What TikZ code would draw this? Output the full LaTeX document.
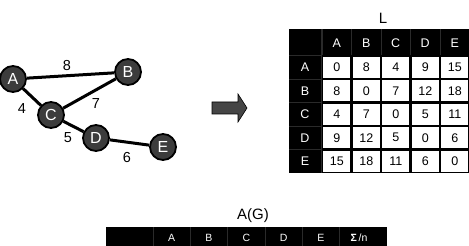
\documentclass[tikz,border=0pt]{standalone}
\usepackage{fontspec}
\setmainfont{Liberation Sans}
\usetikzlibrary{backgrounds}
\definecolor{nodegray}{HTML}{3C3C3C}
\definecolor{arrowgray}{HTML}{454545}
\definecolor{sepgray}{HTML}{2A2A2A}
\begin{document}
\begin{tikzpicture}[x=1pt,y=-1pt,
  gnode/.style={circle, draw=black, line width=1.8pt, fill=nodegray, text=white,
    minimum size=26pt, inner sep=0pt, font=\fontsize{16}{16}\selectfont},
  gedge/.style={line width=3pt, black},
  elabel/.style={inner sep=0pt, font=\fontsize{14.5}{14.5}\selectfont},
  title/.style={inner sep=0pt, font=\fontsize{15}{15}\selectfont},
  hd/.style={inner sep=0pt, text=white, font=\fontsize{12.5}{12.5}\selectfont},
  hdsmall/.style={inner sep=0pt, text=white, font=\fontsize{10.5}{10.5}\selectfont},
  cell/.style={fill=white, inner sep=0pt, minimum width=27.3pt, minimum height=21.3pt,
    font=\fontsize{12.5}{12.5}\selectfont},
  sep/.style={sepgray, line width=0.8pt},
  blockarrow/.style={fill=arrowgray, draw=black, line width=0.6pt, line join=miter}
]
\useasboundingbox (0,0) rectangle (469,246);
\clip (0,0) rectangle (469,246);

% ---- graph ----
\node[gnode] (A) at (13,79) {A};
\node[gnode] (B) at (128,72) {B};
\node[gnode] (C) at (51,115) {C};
\node[gnode] (D) at (96,138) {D};
\node[gnode] (E) at (163,147) {E};
\begin{scope}[on background layer]
\draw[gedge] (A) -- (B);
\draw[gedge] (A) -- (C);
\draw[gedge] (C) -- (B);
\draw[gedge] (C) -- (D);
\draw[gedge] (D) -- (E);
\end{scope}
\node[elabel] (lab8) at (67,66) {8};
\node[elabel] (lab4) at (22,109) {4};
\node[elabel] (lab7) at (96,104) {7};
\node[elabel] (lab5) at (68,138) {5};
\node[elabel] (lab6) at (127,158) {6};

% ---- block arrow ----
\draw[blockarrow] (212,102) -- (238,102) -- (238,94) -- (247,108) -- (238,122) -- (238,114) -- (212,114) -- cycle;

% ---- table L ----
\node[title] (Ltitle) at (383,18) {L};
\fill[black] (289,29) rectangle (472,173);
\foreach \k in {0,...,5} {
  \draw[sep] ({322+29.5*\k},29) -- ({322+29.5*\k},55.5);
}
\draw[sep] (321,29) -- (321,173);
\foreach \k in {1,...,5} {
  \draw[sep] (289,{55.5+23.5*(\k-1)}) -- (321,{55.5+23.5*(\k-1)});
}
\foreach \n [count=\i] in {A,B,C,D,E} {
  \node[hd] (lc\n) at ({322+29.5*(\i-0.5)},43) {\n};
  \node[hd] (lr\n) at (305,{55.5+23.5*(\i-0.5)}) {\n};
}
\foreach \row [count=\r] in {{0,8,4,9,15},{8,0,7,12,18},{4,7,0,5,11},{9,12,5,0,6},{15,18,11,6,0}} {
  \foreach \v [count=\c] in \row {
    \node[cell] (l\r\c) at ({322+29.5*(\c-0.5)},{55.5+23.5*(\r-0.5)}) {\v};
  }
}

% ---- table A(G) ----
\node[title] (Gtitle) at (253,216) {A(G)};
\fill[black] (106,227) rectangle (387,260);
\foreach \xx in {153,190.3,227.6,264.9,302.2,339.5} {
  \draw[sep] (\xx,227) -- (\xx,260);
}
\foreach \n/\xx in {A/171.7,B/209,C/246.3,D/283.6,E/320.9} {
  \node[hdsmall] (g\n) at (\xx,237.5) {\n};
}
\node[hdsmall] (gsum) at (359,237.5) {{\bfseries Σ}\,/n};
\end{tikzpicture}
\end{document}
